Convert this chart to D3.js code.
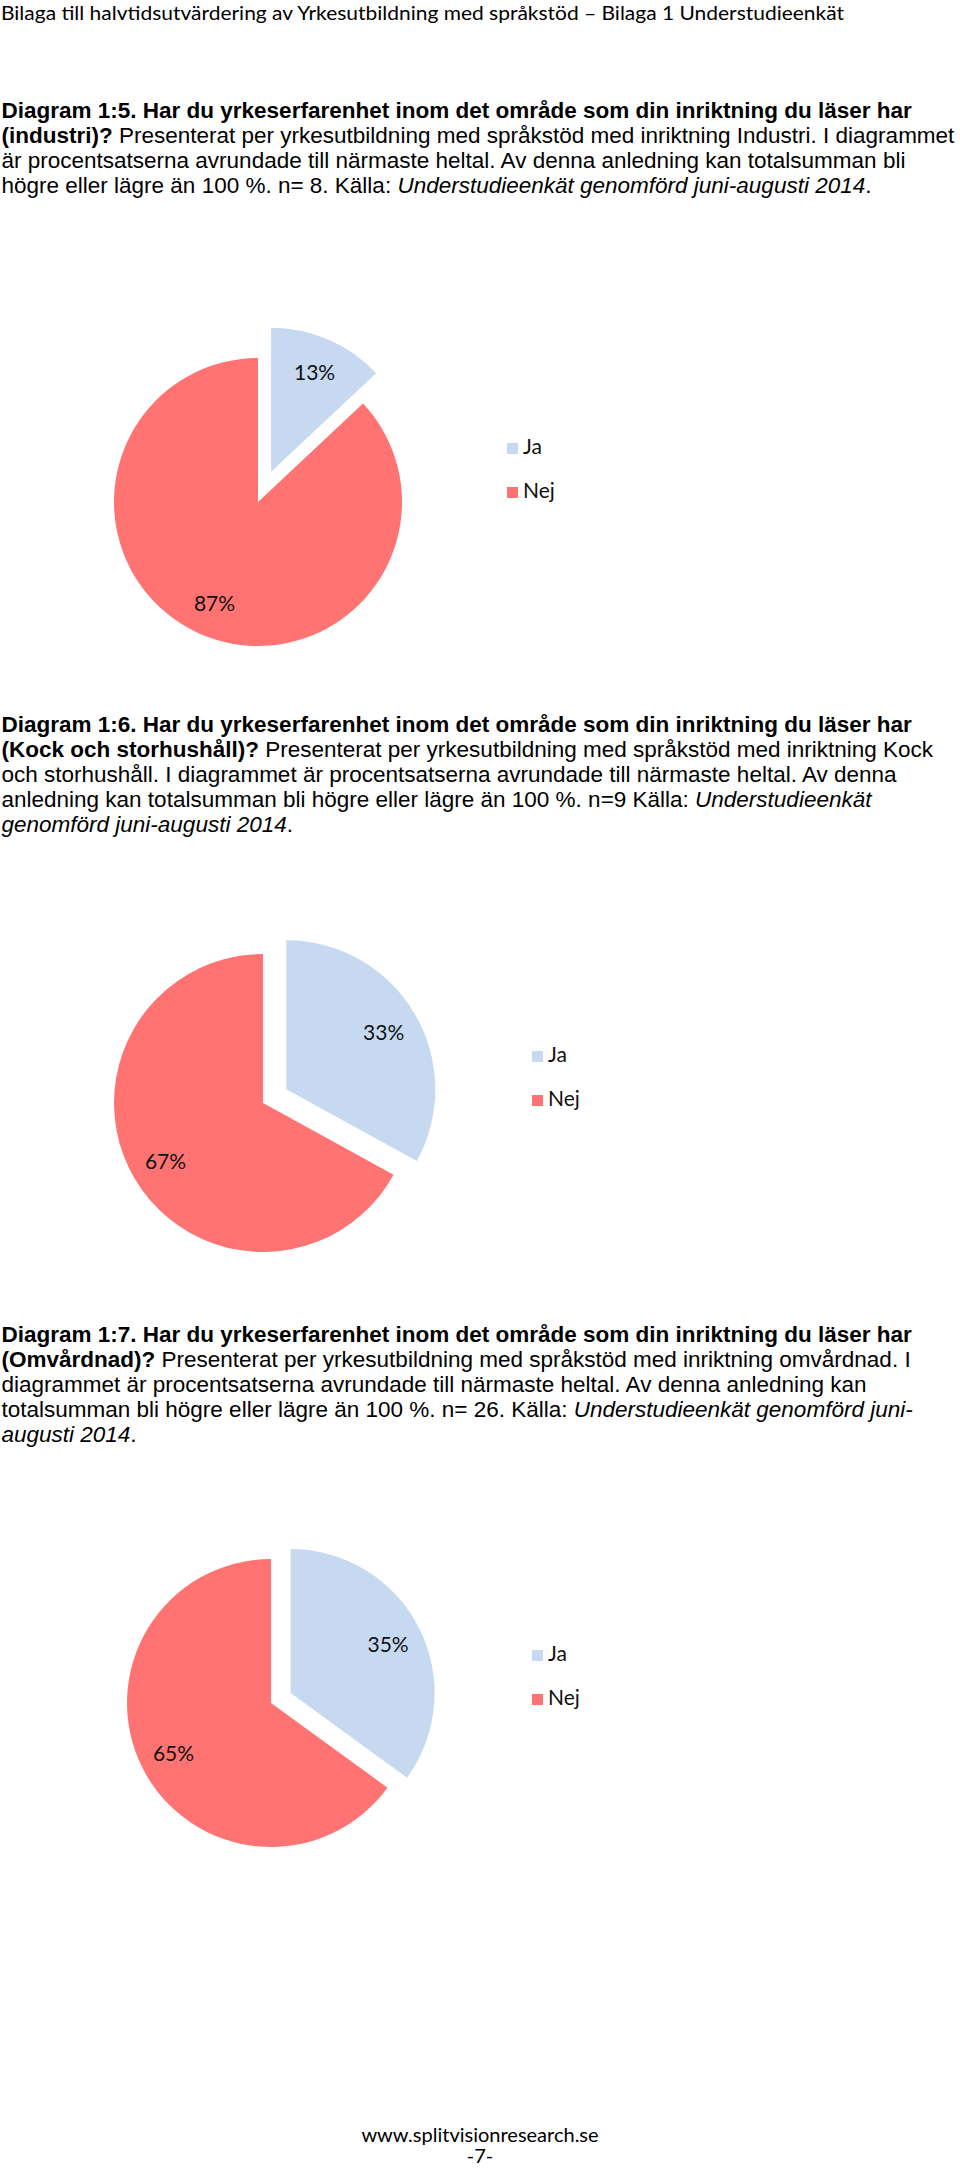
<!DOCTYPE html>
<html>
<head>
<meta charset="utf-8">
<script src="https://cdn.jsdelivr.net/npm/d3@7"></script>
<style>
  html, body { margin: 0; padding: 0; background: #fff; }
  svg { display: block; }
</style>
</head>
<body>
<svg id="page" width="960" height="2169"></svg>
<script>
// ---------- DATA ----------
const categories = ["Ja", "Nej"];
const valuesIndustri = [13, 87];
const valuesKock = [33, 67];
const valuesOmvardnad = [35, 65];
const sliceColors = ["#C6D9F1", "#FF7373"];

const headerText = "Bilaga till halvtidsutvärdering av Yrkesutbildning med språkstöd – Bilaga 1 Understudieenkät";
const footerLines = ["www.splitvisionresearch.se", "-7-"];

// caption lines: arrays of [text, style] segments (b = bold, i = italic, n = normal)
const caption1 = [
  [["Diagram 1:5. Har du yrkeserfarenhet inom det område som din inriktning du läser har", "b"]],
  [["(industri)?", "b"], [" Presenterat per yrkesutbildning med språkstöd med inriktning Industri. I diagrammet", "n"]],
  [["är procentsatserna avrundade till närmaste heltal. Av denna anledning kan totalsumman bli", "n"]],
  [["högre eller lägre än 100 %. n= 8. Källa: ", "n"], ["Understudieenkät genomförd juni-augusti 2014", "i"], [".", "n"]]
];
const caption2 = [
  [["Diagram 1:6. Har du yrkeserfarenhet inom det område som din inriktning du läser har", "b"]],
  [["(Kock och storhushåll)?", "b"], [" Presenterat per yrkesutbildning med språkstöd med inriktning Kock", "n"]],
  [["och storhushåll. I diagrammet är procentsatserna avrundade till närmaste heltal. Av denna", "n"]],
  [["anledning kan totalsumman bli högre eller lägre än 100 %. n=9 Källa: ", "n"], ["Understudieenkät", "i"]],
  [["genomförd juni-augusti 2014", "i"], [".", "n"]]
];
const caption3 = [
  [["Diagram 1:7. Har du yrkeserfarenhet inom det område som din inriktning du läser har", "b"]],
  [["(Omvårdnad)?", "b"], [" Presenterat per yrkesutbildning med språkstöd med inriktning omvårdnad. I", "n"]],
  [["diagrammet är procentsatserna avrundade till närmaste heltal. Av denna anledning kan", "n"]],
  [["totalsumman bli högre eller lägre än 100 %. n= 26. Källa: ", "n"], ["Understudieenkät genomförd juni-", "i"]],
  [["augusti 2014", "i"], [".", "n"]]
];

// ---------- LAYOUT ----------
const svg = d3.select("#page");
svg.append("rect").attr("width", 960).attr("height", 2169).attr("fill", "#fff");

const bodyFont = "'Liberation Sans', Arial, sans-serif";
const uiFont = "Lato, Carlito, Calibri, sans-serif";
const bodySize = 22.5;
const lineGap = 25;

// header
svg.append("text")
  .attr("x", 1).attr("y", 20)
  .attr("font-family", uiFont).attr("font-size", 19.5)
  .attr("textLength", 843).attr("lengthAdjust", "spacingAndGlyphs")
  .attr("fill", "#000")
  .text(headerText);

function drawCaption(lines, y0) {
  lines.forEach((segs, i) => {
    const t = svg.append("text")
      .attr("x", 1.5).attr("y", y0 + i * lineGap)
      .attr("font-family", bodyFont).attr("font-size", bodySize)
      .attr("fill", "#000")
      .attr("xml:space", "preserve");
    segs.forEach(([txt, st]) => {
      t.append("tspan")
        .attr("font-weight", st === "b" ? "bold" : "normal")
        .attr("font-style", st === "i" ? "italic" : "normal")
        .text(txt);
    });
  });
}

drawCaption(caption1, 118);
drawCaption(caption2, 732);
drawCaption(caption3, 1342);

const charts = [
  { values: valuesIndustri, cx: 258, cy: 502, r: 144, explode: 33, legendX: 507, legendY: 443 },
  { values: valuesKock, cx: 263, cy: 1103, r: 149, explode: 27, legendX: 532, legendY: 1051 },
  { values: valuesOmvardnad, cx: 271, cy: 1703, r: 144, explode: 22, legendX: 532, legendY: 1650 }
];

const pie = d3.pie().sort(null).value(d => d).startAngle(0).endAngle(2 * Math.PI);
const color = d3.scaleOrdinal().domain(categories).range(sliceColors);

charts.forEach(ch => {
  const g = svg.append("g").attr("transform", `translate(${ch.cx},${ch.cy})`);
  const arc = d3.arc().innerRadius(0).outerRadius(ch.r);
  const labelArc = d3.arc().innerRadius(ch.r * 0.76).outerRadius(ch.r * 0.76);
  const arcs = pie(ch.values);

  arcs.forEach((a, i) => {
    const mid = (a.startAngle + a.endAngle) / 2;
    const e = i === 0 ? ch.explode : 0;
    const dx = Math.sin(mid) * e, dy = -Math.cos(mid) * e;
    const sg = g.append("g").attr("transform", `translate(${dx},${dy})`);
    sg.append("path").attr("d", arc(a)).attr("fill", color(categories[i]));
    const [lx, ly] = labelArc.centroid(a);
    sg.append("text")
      .attr("x", lx).attr("y", ly)
      .attr("text-anchor", "middle").attr("dominant-baseline", "central")
      .attr("font-family", uiFont).attr("font-size", 21)
      .attr("fill", "#111")
      .text(`${a.data}%`);
  });

  // legend
  const lg = svg.append("g").attr("transform", `translate(${ch.legendX},${ch.legendY})`);
  categories.forEach((c, i) => {
    const row = lg.append("g").attr("transform", `translate(0,${i * 44})`);
    row.append("rect").attr("width", 11).attr("height", 11).attr("fill", color(c));
    row.append("text")
      .attr("x", 16).attr("y", 11)
      .attr("font-family", uiFont).attr("font-size", 21)
      .attr("fill", "#111")
      .text(c);
  });
});

// footer
footerLines.forEach((t, i) => {
  svg.append("text")
    .attr("x", 480).attr("y", 2142 + i * 21)
    .attr("text-anchor", "middle")
    .attr("font-family", uiFont).attr("font-size", 20)
    .attr("fill", "#000")
    .text(t);
});
</script>
</body>
</html>
